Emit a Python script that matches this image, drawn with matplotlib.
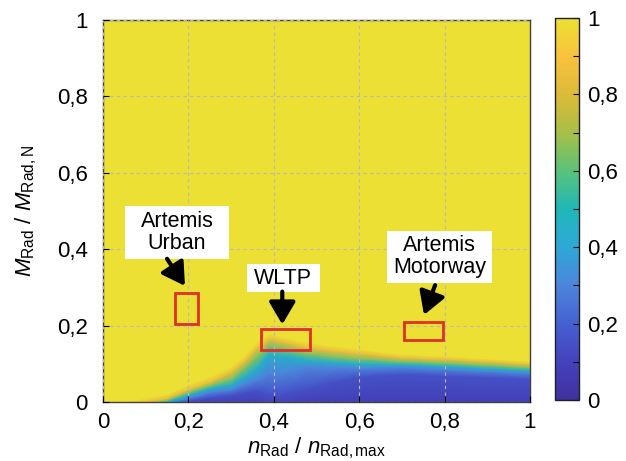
import numpy as np
import matplotlib
matplotlib.use('Agg')
import matplotlib.pyplot as plt
from matplotlib.colors import LinearSegmentedColormap
from matplotlib.patches import Rectangle
from matplotlib.ticker import MultipleLocator

plt.rcParams['font.family'] = ['Liberation Sans', 'DejaVu Sans']
plt.rcParams['mathtext.fontset'] = 'custom'
plt.rcParams['mathtext.rm'] = 'Liberation Sans'
plt.rcParams['mathtext.it'] = 'Liberation Sans:italic'
plt.rcParams['mathtext.bf'] = 'Liberation Sans:bold'

# ---------------- data ----------------
# normalised speed columns at which the map was read
speed = [0.0, 0.05, 0.10, 0.15, 0.20, 0.25, 0.30, 0.33, 0.36, 0.39, 0.42,
         0.48, 0.55, 0.60, 0.70, 0.80, 0.90, 1.00]
# map value at zero torque for each column
value_bottom = [1.00, 1.00, 0.85, 0.45, 0.12, 0.08, 0.08, 0.08, 0.08, 0.10,
                0.10, 0.08, 0.08, 0.08, 0.08, 0.08, 0.08, 0.08]
# contour levels of the map and the torque at which each level is reached
levels = [0.15, 0.30, 0.45, 0.65, 0.85, 1.00]
h_015 = [0, 0, 0, 0, 0.003, 0.012, 0.018, 0.025, 0.030, 0.020, 0.020,
         0.035, 0.055, 0.065, 0.072, 0.068, 0.064, 0.060]
h_030 = [0, 0, 0, 0, 0.010, 0.025, 0.032, 0.045, 0.058, 0.075, 0.075,
         0.090, 0.090, 0.088, 0.090, 0.085, 0.080, 0.075]
h_045 = [0, 0, 0, 0, 0.018, 0.035, 0.045, 0.065, 0.088, 0.125, 0.120,
         0.110, 0.103, 0.100, 0.098, 0.094, 0.088, 0.083]
h_065 = [0, 0, 0, 0.004, 0.025, 0.043, 0.060, 0.087, 0.117, 0.147, 0.141,
         0.126, 0.117, 0.113, 0.106, 0.102, 0.096, 0.090]
h_085 = [0, 0, 0, 0.010, 0.033, 0.052, 0.078, 0.105, 0.140, 0.165, 0.158,
         0.142, 0.133, 0.127, 0.116, 0.112, 0.106, 0.099]
h_100 = [0, 0, 0.010, 0.020, 0.045, 0.065, 0.092, 0.120, 0.155, 0.178, 0.170,
         0.155, 0.145, 0.138, 0.125, 0.120, 0.113, 0.107]
level_heights = [h_015, h_030, h_045, h_065, h_085, h_100]

# driving cycle operating regions
cycle_names = ['Artemis\nUrban', 'WLTP', 'Artemis\nMotorway']
cycle_x0 = [0.168, 0.371, 0.706]
cycle_x1 = [0.222, 0.486, 0.797]
cycle_y0 = [0.205, 0.136, 0.163]
cycle_y1 = [0.286, 0.192, 0.210]

tick_values = [0, 0.2, 0.4, 0.6, 0.8, 1.0]
tick_labels = ['0', '0,2', '0,4', '0,6', '0,8', '1']

# ---------------- colormap (parula-like) ----------------
cmap = LinearSegmentedColormap.from_list('parula_like', [
    (0.00, (0.25, 0.19, 0.62)),
    (0.10, (0.27, 0.26, 0.74)),
    (0.20, (0.27, 0.38, 0.82)),
    (0.30, (0.30, 0.52, 0.86)),
    (0.40, (0.18, 0.66, 0.84)),
    (0.50, (0.12, 0.72, 0.72)),
    (0.60, (0.35, 0.76, 0.48)),
    (0.70, (0.66, 0.75, 0.28)),
    (0.80, (0.86, 0.73, 0.22)),
    (0.90, (0.98, 0.76, 0.24)),
    (1.00, (0.92, 0.88, 0.20)),
])

fig = plt.figure(figsize=(6.26, 4.61), dpi=100)
ax = fig.add_axes([0.1645, 0.128, 0.682, 0.8285])

# curvilinear mesh: rows follow the contour levels
sp = np.array(speed)
vb = np.array(value_bottom)
rows_y = [np.zeros_like(sp)] + [np.array(h) for h in level_heights] + [np.ones_like(sp)]
rows_c = [vb] + [np.maximum(lv, vb) for lv in levels] + [np.ones_like(sp)]
Y = np.vstack(rows_y)
C = np.vstack(rows_c)
X = np.tile(sp, (Y.shape[0], 1))
mesh = ax.pcolormesh(X, Y, C, cmap=cmap, vmin=0, vmax=1, shading='gouraud',
                     rasterized=True, zorder=0)

ax.set_xlim(0, 1)
ax.set_ylim(0, 1)
ax.set_xticks(tick_values)
ax.set_xticklabels(tick_labels)
ax.set_yticks(tick_values)
ax.set_yticklabels(tick_labels)
ax.tick_params(direction='in', length=4, labelsize=16, width=0.8,
               top=False, right=False)
ax.tick_params(axis='y', pad=11)
ax.tick_params(axis='x', pad=7)
ax.grid(True, color='#b8b8b8', linestyle=(0, (3, 3)), linewidth=0.8, zorder=1)
ax.set_axisbelow(False)
for s in ax.spines.values():
    s.set_color('#404040')
    s.set_linewidth(1.0)

ax.set_xlabel(r'$n_{\mathrm{Rad}}$ / $n_{\mathrm{Rad,max}}$', fontsize=16, labelpad=2)
ax.set_ylabel(r'$M_{\mathrm{Rad}}$ / $M_{\mathrm{Rad,N}}$', fontsize=16, labelpad=13)

# red cycle rectangles
for x0, x1, y0, y1 in zip(cycle_x0, cycle_x1, cycle_y0, cycle_y1):
    ax.add_patch(Rectangle((x0, y0), x1 - x0, y1 - y0, fill=False,
                           edgecolor='#e0302a', linewidth=2.0, zorder=3))

# label boxes, text and arrows
box_ext = [(0.0515, 0.295, 0.375, 0.512),
           (0.337, 0.508, 0.289, 0.360),
           (0.665, 0.911, 0.312, 0.449)]
arrows = [((0.150, 0.375), (0.192, 0.304)),
          ((0.420, 0.289), (0.420, 0.203)),
          ((0.778, 0.306), (0.752, 0.228))]
for name, (bx0, bx1, by0, by1), (tail, head) in zip(cycle_names, box_ext, arrows):
    ax.add_patch(Rectangle((bx0, by0), bx1 - bx0, by1 - by0, facecolor='white',
                           edgecolor='none', zorder=4))
    ax.text((bx0 + bx1) / 2, (by0 + by1) / 2, name, ha='center', va='center',
            fontsize=15.5, linespacing=1.1, zorder=5)
    ax.annotate('', xy=head, xytext=tail,
                arrowprops=dict(arrowstyle='-|>,head_length=0.85,head_width=0.5',
                                lw=3.0, color='black', shrinkA=0, shrinkB=0,
                                mutation_scale=16), zorder=5)

# colorbar
cax = fig.add_axes([0.887, 0.132, 0.038, 0.829])
cb = fig.colorbar(mesh, cax=cax)
cb.set_ticks(tick_values)
cb.set_ticklabels(tick_labels)
cax.yaxis.set_minor_locator(MultipleLocator(0.1))
cax.tick_params(which='both', direction='in', length=4, width=0.8, labelsize=16, pad=6)
cb.outline.set_linewidth(1.0)
cb.outline.set_edgecolor('#202020')

fig.savefig('out.png', dpi=100)
